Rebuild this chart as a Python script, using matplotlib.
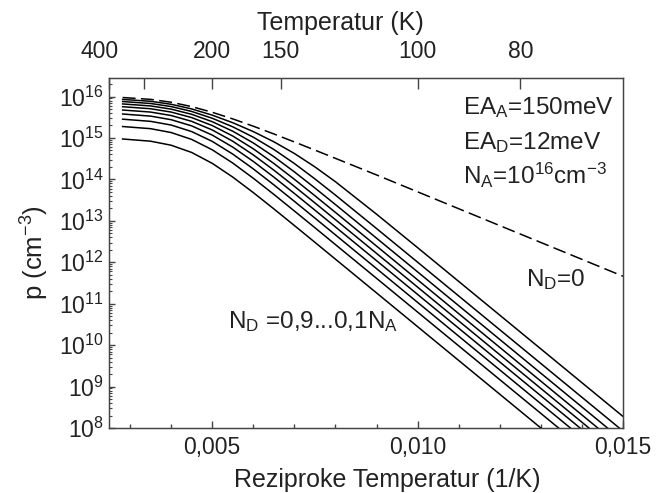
import numpy as np
import matplotlib
matplotlib.use('Agg')
import matplotlib.pyplot as plt
import matplotlib.transforms as mtransforms
from matplotlib.ticker import FixedLocator, NullFormatter, LogLocator

plt.rcParams['font.family'] = ['Liberation Sans', 'DejaVu Sans']
plt.rcParams['mathtext.fontset'] = 'custom'
plt.rcParams['mathtext.rm'] = 'Liberation Sans'
plt.rcParams['mathtext.it'] = 'Liberation Sans'
plt.rcParams['mathtext.default'] = 'regular'

# reciprocal temperature (1/K) where the curves were read
inv_T = [0.00282, 0.0035, 0.004, 0.0045, 0.005, 0.0055, 0.006, 0.0065,
         0.007, 0.0075, 0.008, 0.009, 0.010, 0.012, 0.015]

# log10 of hole density p (cm^-3)
logp_nd0 = [15.976, 15.931, 15.862, 15.757, 15.620, 15.460, 15.284, 15.097,
            14.904, 14.707, 14.508, 14.108, 13.700, 12.885, 11.663]
logp_nd = [
    [15.930, 15.885, 15.813, 15.701, 15.551, 15.368, 15.154, 14.908, 14.626, 14.302, 13.944, 13.161, 12.353, 10.724, 8.279],
    [15.879, 15.832, 15.758, 15.640, 15.476, 15.269, 15.019, 14.723, 14.384, 14.012, 13.621, 12.815, 12.002, 10.372, 7.927],
    [15.821, 15.773, 15.696, 15.571, 15.393, 15.163, 14.880, 14.550, 14.182, 13.793, 13.393, 12.582, 11.768, 10.138, 7.693],
    [15.754, 15.705, 15.625, 15.492, 15.300, 15.047, 14.739, 14.385, 14.003, 13.606, 13.203, 12.391, 11.576, 9.946, 7.501],
    [15.674, 15.625, 15.542, 15.401, 15.194, 14.921, 14.592, 14.224, 13.833, 13.433, 13.028, 12.215, 11.400, 9.770, 7.325],
    [15.578, 15.527, 15.441, 15.292, 15.070, 14.779, 14.434, 14.056, 13.661, 13.258, 12.853, 12.039, 11.224, 9.594, 7.149],
    [15.453, 15.401, 15.312, 15.154, 14.918, 14.611, 14.254, 13.869, 13.471, 13.067, 12.661, 11.847, 11.032, 9.402, 6.957],
    [15.276, 15.224, 15.131, 14.965, 14.715, 14.395, 14.028, 13.639, 13.238, 12.834, 12.427, 11.613, 10.798, 9.168, 6.723],
    [14.975, 14.922, 14.825, 14.650, 14.388, 14.056, 13.682, 13.289, 12.887, 12.482, 12.075, 11.261, 10.446, 8.816, 6.371],
]

# top axis temperatures
top_T = [400, 300, 200, 150, 100, 80]
top_labels = ['400', '', '200', '150', '100', '80']

bottom_ticks = [0.005, 0.010, 0.015]
bottom_labels = ['0,005', '0,010', '0,015']

fs = 16.5
fs_lab = 18
fs_txt = 17.5
dark = '#222222'
spine_c = '#444444'

fig = plt.figure(figsize=(6.56, 4.93), dpi=100)
ax = fig.add_axes([0.1669, 0.1318, 0.7828, 0.71])

for lp in logp_nd:
    ax.plot(inv_T, np.power(10.0, lp), color='black', lw=1.1)
ax.plot(inv_T, np.power(10.0, logp_nd0), color='black', lw=1.1, linestyle=(0, (8.5, 3.5)))

ax.set_yscale('log')
ax.set_xlim(0.0025, 0.015)
ax.set_ylim(1e8, 2.8e16)

ax.set_xticks(bottom_ticks)
ax.set_xticklabels(bottom_labels)
ax.xaxis.set_minor_locator(FixedLocator(np.arange(0.003, 0.0150, 0.001)))
ax.yaxis.set_minor_locator(LogLocator(base=10, subs=np.arange(2, 10), numticks=20))
ax.yaxis.set_minor_formatter(NullFormatter())
yt = [10.0 ** k for k in range(8, 17)]
ax.set_yticks(yt)
ax.set_yticklabels([r'$10^{%d}$' % k for k in range(8, 17)])

ax.tick_params(axis='both', which='both', direction='in', colors=spine_c,
               labelcolor=dark, labelsize=fs)
ax.tick_params(axis='x', which='major', length=5, width=1, bottom=True, top=False, pad=6)
ax.tick_params(axis='x', which='minor', length=3, width=1, bottom=True, top=False)
ax.tick_params(axis='y', which='major', length=4, width=1, left=True, right=False, pad=4)
ax.tick_params(axis='y', which='minor', length=2, width=0.8, left=True, right=False)
for s in ax.spines.values():
    s.set_color(spine_c)
    s.set_linewidth(1.0)

ax.set_xlabel('Reziproke Temperatur (1/K)', fontsize=fs_lab, color=dark, labelpad=6)
ax.xaxis.label.set_x(0.54)
ax.set_ylabel(r'p (cm$^{-3}$)', fontsize=fs_lab + 0.5, color=dark, labelpad=6)

# top axis in Kelvin
ax2 = ax.twiny()
ax2.set_xlim(ax.get_xlim())
ax2.set_xticks([1.0 / t for t in top_T])
ax2.set_xticklabels(top_labels)
ax2.tick_params(axis='x', which='major', direction='in', length=8, width=1,
                colors=spine_c, labelcolor=dark, labelsize=fs, pad=11)
ax2.set_xlabel('Temperatur (K)', fontsize=fs_lab, color=dark, labelpad=7)
ax2.xaxis.label.set_x(0.449)
for s in ax2.spines.values():
    s.set_color(spine_c)
# the "400" label sits a little left of its tick
shift = mtransforms.ScaledTranslation(-7 / 72, 0, fig.dpi_scale_trans)
for lbl in ax2.get_xticklabels():
    if lbl.get_text() == '400':
        lbl.set_transform(lbl.get_transform() + shift)

ax.text(0.0111, 3.85e15, r'EA$_A$=150meV', fontsize=fs_txt, color=dark, va='baseline')
ax.text(0.0111, 5.5e14, r'EA$_D$=12meV', fontsize=fs_txt, color=dark, va='baseline')
ax.text(0.0111, 7.8e13, r'N$_A$=10$^{16}$cm$^{-3}$', fontsize=fs_txt, color=dark, va='baseline')
ax.text(0.01263, 2.6e11, r'N$_D$=0', fontsize=fs_txt, color=dark, va='baseline')
ax.text(0.00539, 2.6e10, r'N$_D$ =0,9...0,1N$_A$', fontsize=fs_txt, color=dark, va='baseline')

fig.savefig('out.png', dpi=100)
